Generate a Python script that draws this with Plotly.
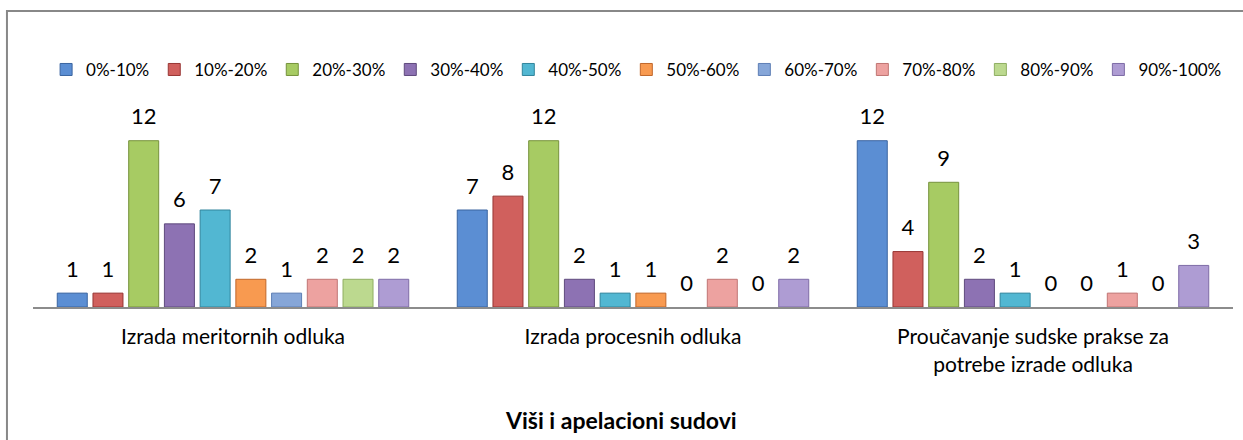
import plotly.graph_objects as go

categories = ["Izrada meritornih odluka", "Izrada procesnih odluka",
              "Proučavanje sudske prakse za<br>potrebe izrade odluka"]
series_names = ["0%-10%", "10%-20%", "20%-30%", "30%-40%", "40%-50%",
                "50%-60%", "60%-70%", "70%-80%", "80%-90%", "90%-100%"]
values = {
    "0%-10%":   [1, 7, 12],
    "10%-20%":  [1, 8, 4],
    "20%-30%":  [12, 12, 9],
    "30%-40%":  [6, 2, 2],
    "40%-50%":  [7, 1, 1],
    "50%-60%":  [2, 1, 0],
    "60%-70%":  [1, 0, 0],
    "70%-80%":  [2, 2, 1],
    "80%-90%":  [2, 0, 0],
    "90%-100%": [2, 2, 3],
}
fill_colors = ["#5B8ED3", "#D0605D", "#A7CB63", "#8D72B3", "#52B7D2",
               "#F89A50", "#86A6D8", "#EDA2A0", "#BCD98F", "#AE9CD3"]
line_colors = ["#3A64A0", "#983634", "#76923C", "#5F4A7E", "#31859C",
               "#C0662A", "#5E7FB5", "#C07573", "#8FAE62", "#7E6BA6"]

FONT = "Lato, 'Open Sans', sans-serif"
GAP = 0.107

fig = go.Figure()
for i, (name, fc, lc) in enumerate(zip(series_names, fill_colors, line_colors)):
    vals = values[name]
    fig.add_trace(go.Bar(
        name=name, x=categories, y=vals, offsetgroup=str(i),
        marker=dict(color=fc, line=dict(color=lc, width=[1 if v else 0 for v in vals])),
    ))
for i, name in enumerate(series_names):
    # value labels, lifted above the bars by an invisible marker
    fig.add_trace(go.Scatter(
        x=categories, y=values[name], offsetgroup=str(i), showlegend=False,
        mode="markers+text", text=values[name], textposition="top center",
        marker=dict(size=16, color="rgba(0,0,0,0)"), cliponaxis=False,
        textfont=dict(size=22, color="#000000", family=FONT), hoverinfo="skip",
    ))

fig.update_layout(
    width=1243, height=440,
    barmode="group", bargap=GAP, bargroupgap=0.16,
    scattermode="group", scattergap=GAP,
    plot_bgcolor="white", paper_bgcolor="white",
    margin=dict(l=33, r=10, t=113, b=133, autoexpand=False),
    font=dict(family=FONT, color="#000000"),
    showlegend=True,
    legend=dict(orientation="h", x=0.503, xanchor="center", y=1.222, yanchor="middle",
                font=dict(size=17, family=FONT), itemwidth=30, traceorder="normal"),
    xaxis=dict(showline=True, linecolor="#8C8C8C", linewidth=2, ticks="",
               tickfont=dict(size=21, family=FONT), ticklabelstandoff=10,
               showgrid=False),
    yaxis=dict(range=[0, 14], visible=False, showgrid=False, zeroline=False),
    annotations=[dict(text="<b>Viši i apelacioni sudovi</b>", xref="paper", yref="paper",
                      x=0.4897, y=-0.582, xanchor="center", yanchor="middle",
                      showarrow=False, font=dict(size=23, family=FONT))],
    shapes=[dict(type="path", xref="paper", yref="paper",
                 path="M -0.0217,-0.75 L -0.0217,1.526 L 1.02,1.526",
                 line=dict(color="#888888", width=2), layer="below")],
)

fig.write_html("out.html", config={"displayModeBar": False},
               post_script="document.body.style.margin='0';document.body.style.overflow='hidden';")
